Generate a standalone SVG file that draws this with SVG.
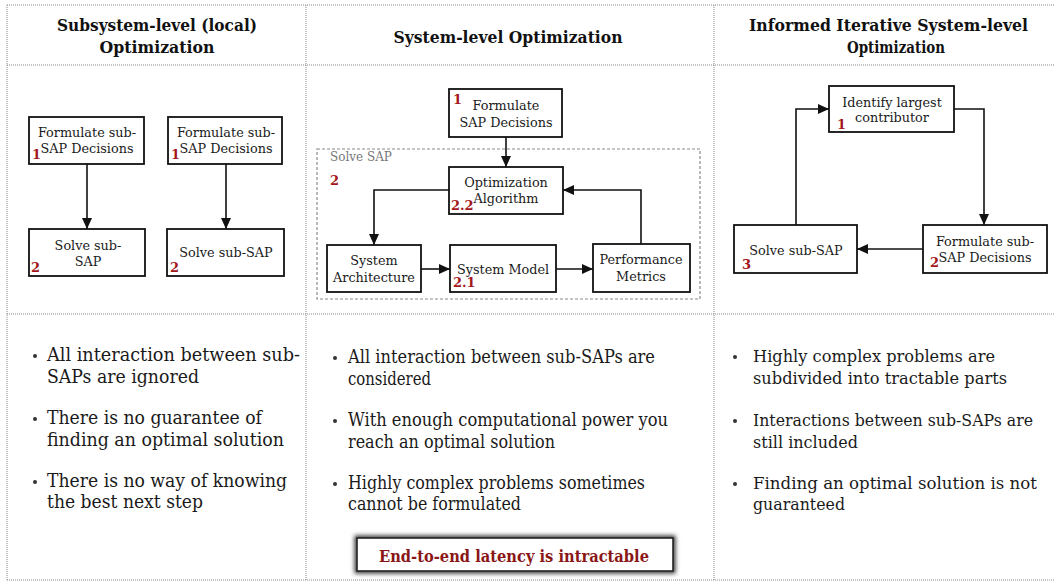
<svg xmlns="http://www.w3.org/2000/svg" width="1054" height="583" viewBox="0 0 1054 583">
  <style>
    .grid { stroke: #8a8a8a; stroke-width: 1; stroke-dasharray: 1 1; fill: none; }
    .head { font-family: "DejaVu Serif", "Liberation Serif", serif; font-weight: bold; font-size: 17.5px; fill: #111; text-anchor: middle; }
    .head.left { text-anchor: start; font-size: 16px; }
    .box { fill: #fff; stroke: #111; stroke-width: 1.8; }
    .lbl { font-family: "DejaVu Serif", "Liberation Serif", serif; font-size: 12.8px; fill: #1a1a1a; text-anchor: middle; }
    .num { font-family: "DejaVu Serif", "Liberation Serif", serif; font-weight: bold; font-size: 13px; fill: #a3161b; }
    .edge { fill: none; stroke: #111; stroke-width: 1.6; marker-end: url(#arrow); }
    .body { font-family: "DejaVu Serif", "Liberation Serif", serif; font-size: 18px; fill: #1a1a1a; }
    .narrow { font-size: 16.5px; }
    .dot { fill: #333; }
    .group { fill: none; stroke: #8a8a8a; stroke-width: 1.2; stroke-dasharray: 3 2; }
  </style>
  <defs>
    <marker id="arrow" markerUnits="userSpaceOnUse" markerWidth="12" markerHeight="10" refX="11" refY="5" orient="auto">
      <path d="M0,0 L11,5 L0,10 Z" fill="#111"/>
    </marker>
    <filter id="glow" x="-10%" y="-40%" width="120%" height="180%">
      <feGaussianBlur stdDeviation="2.2"/>
    </filter>
  </defs>

  <!-- table grid -->
  <g id="table">
    <line class="grid" x1="7" y1="5" x2="1054" y2="5"/>
    <line class="grid" x1="7" y1="65" x2="1054" y2="65"/>
    <line class="grid" x1="7" y1="314" x2="1054" y2="314"/>
    <line class="grid" x1="7" y1="580" x2="1054" y2="580"/>
    <line class="grid" x1="7" y1="5" x2="7" y2="580"/>
    <line class="grid" x1="306" y1="5" x2="306" y2="580"/>
    <line class="grid" x1="714" y1="5" x2="714" y2="580"/>
  </g>

  <!-- column headers -->
  <g id="headers">
    <text class="head" x="157" y="31" textLength="200" lengthAdjust="spacingAndGlyphs">Subsystem-level (local)</text>
    <text class="head" x="157" y="53" textLength="115" lengthAdjust="spacingAndGlyphs">Optimization</text>
    <text class="head" x="508" y="43" textLength="229" lengthAdjust="spacingAndGlyphs">System-level Optimization</text>
    <text class="head left" x="749" y="31" textLength="279" lengthAdjust="spacingAndGlyphs">Informed Iterative System-level</text>
    <text class="head" x="896" y="53" textLength="98" lengthAdjust="spacingAndGlyphs">Optimization</text>
  </g>

  <!-- connectors -->
  <g id="connectors">
    <line class="edge" x1="87" y1="164" x2="87" y2="229"/>
    <line class="edge" x1="226" y1="164" x2="226" y2="229"/>
    <line class="edge" x1="506" y1="137" x2="506" y2="167"/>
    <path class="edge" d="M449,190 H374 V245"/>
    <line class="edge" x1="421" y1="269" x2="450" y2="269"/>
    <line class="edge" x1="556" y1="269" x2="593" y2="269"/>
    <path class="edge" d="M641,244 V190 H563"/>
    <path class="edge" d="M954,109 H984 V225"/>
    <line class="edge" x1="923" y1="249" x2="857" y2="249"/>
    <path class="edge" d="M796,225 V109 H829"/>
  </g>

  <!-- subsystem-level column -->
  <g id="local-formulate-a">
    <rect class="box" x="29" y="117" width="115" height="47"/>
    <text class="lbl" x="87" y="137">Formulate sub-</text>
    <text class="lbl" x="87" y="153">SAP Decisions</text>
    <text class="num" x="32" y="159">1</text>
  </g>
  <g id="local-formulate-b">
    <rect class="box" x="168" y="117" width="114" height="47"/>
    <text class="lbl" x="226" y="137">Formulate sub-</text>
    <text class="lbl" x="226" y="153">SAP Decisions</text>
    <text class="num" x="171" y="159">1</text>
  </g>
  <g id="local-solve-a">
    <rect class="box" x="29" y="229" width="116" height="47"/>
    <text class="lbl" x="88" y="250">Solve sub-</text>
    <text class="lbl" x="88" y="266">SAP</text>
    <text class="num" x="31" y="272">2</text>
  </g>
  <g id="local-solve-b">
    <rect class="box" x="167" y="229" width="117" height="47"/>
    <text class="lbl" x="226" y="257">Solve sub-SAP</text>
    <text class="num" x="170" y="272">2</text>
  </g>

  <!-- system-level column -->
  <g id="sys-formulate">
    <rect class="box" x="449" y="89" width="113" height="48"/>
    <text class="lbl" x="506" y="110">Formulate</text>
    <text class="lbl" x="506" y="127">SAP Decisions</text>
    <text class="num" x="453" y="104">1</text>
  </g>
  <g id="sys-solve">
    <rect class="group" x="317" y="149" width="383" height="150"/>
    <text x="330" y="161" font-family="DejaVu Serif, Liberation Serif, serif" font-size="12px" fill="#777">Solve SAP</text>
    <text class="num" x="330" y="185">2</text>
  </g>
  <g id="sys-optimizer">
    <rect class="box" x="449" y="167" width="114" height="47"/>
    <text class="lbl" x="506" y="187">Optimization</text>
    <text class="lbl" x="506" y="203">Algorithm</text>
    <text class="num" x="451" y="210">2.2</text>
  </g>
  <g id="sys-architecture">
    <rect class="box" x="327" y="245" width="94" height="47"/>
    <text class="lbl" x="374" y="265">System</text>
    <text class="lbl" x="374" y="282">Architecture</text>
  </g>
  <g id="sys-model">
    <rect class="box" x="450" y="245" width="106" height="47"/>
    <text class="lbl" x="503" y="274">System Model</text>
    <text class="num" x="453" y="287">2.1</text>
  </g>
  <g id="sys-metrics">
    <rect class="box" x="593" y="244" width="97" height="48"/>
    <text class="lbl" x="641" y="264">Performance</text>
    <text class="lbl" x="641" y="281">Metrics</text>
  </g>

  <!-- informed iterative column -->
  <g id="iter-identify">
    <rect class="box" x="829" y="86" width="125" height="46"/>
    <text class="lbl" x="892" y="107">Identify largest</text>
    <text class="lbl" x="892" y="122">contributor</text>
    <text class="num" x="837" y="129">1</text>
  </g>
  <g id="iter-formulate">
    <rect class="box" x="923" y="225" width="124" height="48"/>
    <text class="lbl" x="985" y="246">Formulate sub-</text>
    <text class="lbl" x="985" y="262">SAP Decisions</text>
    <text class="num" x="930" y="267">2</text>
  </g>
  <g id="iter-solve">
    <rect class="box" x="734" y="225" width="123" height="48"/>
    <text class="lbl" x="796" y="255">Solve sub-SAP</text>
    <text class="num" x="742" y="269">3</text>
  </g>

  <!-- bullet lists -->
  <g id="notes-local">
    <circle class="dot" cx="35" cy="356" r="2"/>
    <text class="body" x="47" y="361" textLength="253" lengthAdjust="spacingAndGlyphs">All interaction between sub-</text>
    <text class="body" x="47" y="383" textLength="152" lengthAdjust="spacingAndGlyphs">SAPs are ignored</text>
    <circle class="dot" cx="35" cy="419" r="2"/>
    <text class="body" x="47" y="424" textLength="215" lengthAdjust="spacingAndGlyphs">There is no guarantee of</text>
    <text class="body" x="47" y="446" textLength="237" lengthAdjust="spacingAndGlyphs">finding an optimal solution</text>
    <circle class="dot" cx="35" cy="482" r="2"/>
    <text class="body" x="47" y="487" textLength="240" lengthAdjust="spacingAndGlyphs">There is no way of knowing</text>
    <text class="body" x="47" y="508" textLength="156" lengthAdjust="spacingAndGlyphs">the best next step</text>
  </g>
  <g id="notes-system">
    <circle class="dot" cx="335" cy="358" r="2"/>
    <text class="body" x="348" y="363" textLength="307" lengthAdjust="spacingAndGlyphs">All interaction between sub-SAPs are</text>
    <text class="body" x="348" y="385" textLength="83" lengthAdjust="spacingAndGlyphs">considered</text>
    <circle class="dot" cx="335" cy="421" r="2"/>
    <text class="body" x="348" y="426" textLength="320" lengthAdjust="spacingAndGlyphs">With enough computational power you</text>
    <text class="body" x="348" y="448" textLength="207" lengthAdjust="spacingAndGlyphs">reach an optimal solution</text>
    <circle class="dot" cx="335" cy="484" r="2"/>
    <text class="body" x="348" y="489" textLength="297" lengthAdjust="spacingAndGlyphs">Highly complex problems sometimes</text>
    <text class="body" x="348" y="510" textLength="173" lengthAdjust="spacingAndGlyphs">cannot be formulated</text>
  </g>
  <g id="latency-callout">
    <rect x="357" y="538" width="316" height="33" fill="none" stroke="#333" stroke-width="5" filter="url(#glow)"/>
    <rect x="357" y="538" width="316" height="33" fill="#fff" stroke="#222" stroke-width="1.6"/>
    <text x="514" y="562" text-anchor="middle" font-family="DejaVu Serif, Liberation Serif, serif" font-weight="bold" font-size="17px" fill="#8b1616" textLength="270" lengthAdjust="spacingAndGlyphs">End-to-end latency is intractable</text>
  </g>
  <g id="notes-iterative">
    <circle class="dot" cx="735" cy="357" r="2"/>
    <text class="body narrow" x="753" y="362" textLength="242" lengthAdjust="spacingAndGlyphs">Highly complex problems are</text>
    <text class="body narrow" x="753" y="384" textLength="254" lengthAdjust="spacingAndGlyphs">subdivided into tractable parts</text>
    <circle class="dot" cx="735" cy="421" r="2"/>
    <text class="body narrow" x="753" y="426" textLength="280" lengthAdjust="spacingAndGlyphs">Interactions between sub-SAPs are</text>
    <text class="body narrow" x="753" y="448" textLength="105" lengthAdjust="spacingAndGlyphs">still included</text>
    <circle class="dot" cx="735" cy="484" r="2"/>
    <text class="body narrow" x="753" y="489" textLength="284" lengthAdjust="spacingAndGlyphs">Finding an optimal solution is not</text>
    <text class="body narrow" x="753" y="510" textLength="92" lengthAdjust="spacingAndGlyphs">guaranteed</text>
  </g>
</svg>
